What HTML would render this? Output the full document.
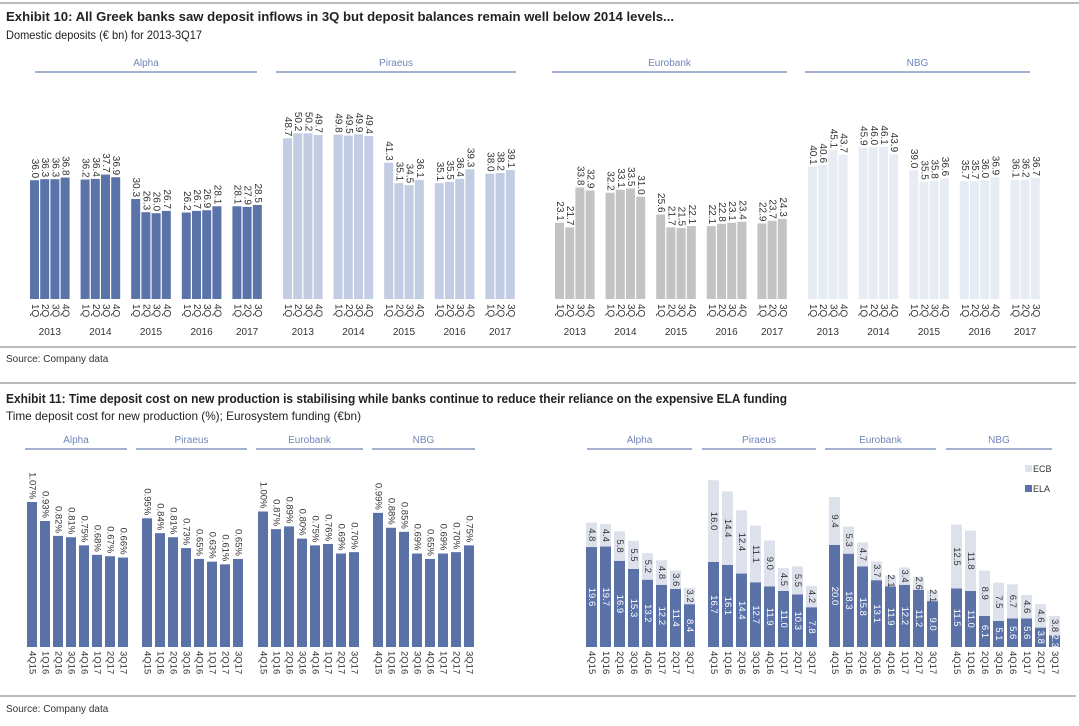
<!DOCTYPE html>
<html><head><meta charset="utf-8"><style>
body{margin:0;background:#fff;}
svg{display:block;font-family:"Liberation Sans",Arial,sans-serif;}
.t{font-family:"Liberation Sans Narrow","Liberation Sans",sans-serif;}
</style></head><body>
<svg id="c" width="1079" height="726" viewBox="0 0 1079 726">
<line x1="0" y1="3" x2="1079" y2="3" stroke="#777" stroke-width="1"/>
<text class="t" x="6" y="21" font-size="13" font-weight="bold" fill="#222" textLength="668" lengthAdjust="spacingAndGlyphs">Exhibit 10: All Greek banks saw deposit inflows in 3Q but deposit balances remain well below 2014 levels...</text>
<text class="t" x="6" y="39" font-size="12" fill="#222" textLength="196" lengthAdjust="spacingAndGlyphs">Domestic deposits (€ bn) for 2013-3Q17</text>
<line x1="0" y1="347" x2="1076" y2="347" stroke="#777"/>
<text class="t" x="6" y="362" font-size="10" fill="#333">Source: Company data</text>
<line x1="0" y1="383" x2="1076" y2="383" stroke="#777"/>
<text class="t" x="6" y="403" font-size="13" font-weight="bold" fill="#222" textLength="781" lengthAdjust="spacingAndGlyphs">Exhibit 11: Time deposit cost on new production is stabilising while banks continue to reduce their reliance on the expensive ELA funding</text>
<text class="t" x="6" y="420" font-size="12" fill="#222" textLength="355" lengthAdjust="spacingAndGlyphs">Time deposit cost for new production (%); Eurosystem funding (€bn)</text>
<line x1="0" y1="696" x2="1076" y2="696" stroke="#777"/>
<text class="t" x="6" y="712" font-size="10" fill="#333">Source: Company data</text>
<g id="legend">
<rect x="1025" y="465" width="7" height="7" fill="#dde1ec"/>
<text x="1033" y="472" font-size="9" fill="#333">ECB</text>
<rect x="1025" y="485" width="7" height="7" fill="#5b72a9"/>
<text x="1033" y="492" font-size="9" fill="#333">ELA</text>
</g>
</svg>
<script>
// Exhibit 10 data
const depBanks = ["Alpha","Piraeus","Eurobank","NBG"];
const depYears = ["2013","2014","2015","2016","2017"];
const depAlpha = [36.0,36.3,36.3,36.8, 36.2,36.4,37.7,36.9, 30.3,26.3,26.0,26.7, 26.2,26.7,26.9,28.1, 28.1,27.9,28.5];
const depPiraeus = [48.7,50.2,50.2,49.7, 49.8,49.5,49.9,49.4, 41.3,35.1,34.5,36.1, 35.1,35.5,36.4,39.3, 38.0,38.2,39.1];
const depEurobank = [23.1,21.7,33.8,32.9, 32.2,33.1,33.5,31.0, 25.6,21.7,21.5,22.1, 22.1,22.8,23.1,23.4, 22.9,23.7,24.3];
const depNBG = [40.1,40.6,45.1,43.7, 45.9,46.0,46.1,43.9, 39.0,35.5,35.8,36.6, 35.7,35.7,36.0,36.9, 36.1,36.2,36.7];
// Exhibit 11 data
const quarters = ["4Q15","1Q16","2Q16","3Q16","4Q16","1Q17","2Q17","3Q17"];
const costAlpha = [1.07,0.93,0.82,0.81,0.75,0.68,0.67,0.66];
const costPiraeus = [0.95,0.84,0.81,0.73,0.65,0.63,0.61,0.65];
const costEurobank = [1.00,0.87,0.89,0.80,0.75,0.76,0.69,0.70];
const costNBG = [0.99,0.88,0.85,0.69,0.65,0.69,0.70,0.75];
const elaAlpha = [19.6,19.7,16.9,15.3,13.2,12.2,11.4,8.4];
const ecbAlpha = [4.8,4.4,5.8,5.5,5.2,4.8,3.6,3.2];
const elaPiraeus = [16.7,16.1,14.4,12.7,11.9,11.0,10.3,7.8];
const ecbPiraeus = [16.0,14.4,12.4,11.1,9.0,4.5,5.5,4.2];
const elaEurobank = [20.0,18.3,15.8,13.1,11.9,12.2,11.2,9.0];
const ecbEurobank = [9.4,5.3,4.7,3.7,2.1,3.4,2.6,2.1];
const elaNBG = [11.5,11.0,6.1,5.1,5.6,5.6,3.8,2.3];
const ecbNBG = [12.5,11.8,8.9,7.5,6.7,4.6,4.6,3.8];

const svg = document.getElementById('c');
const NS = 'http://www.w3.org/2000/svg';
function mk(tag, attrs, txt){const e=document.createElementNS(NS,tag);for(const k in attrs)e.setAttribute(k,attrs[k]);if(txt!==undefined)e.textContent=txt;svg.appendChild(e);return e;}
function vtext(x,yTop,txt,size,fill,anchor){
  const e=mk('text',{x:0,y:0,'font-size':size,fill:fill,'text-anchor':anchor||'start','dominant-baseline':'central',transform:`translate(${x},${yTop}) rotate(90)`},txt);return e;}
function header(name,x1,x2,y){
  const t=mk('text',{x:(x1+x2)/2,y:y-6,'font-size':10,fill:'#6f86b8','text-anchor':'middle'},name);
  
  
  const l=mk('line',{x1:x1,x2:x2,y1:y,y2:y,stroke:'#8797c0','stroke-width':1.5});
  
  
}
// ---- Exhibit 10
const dBase=299, dScale=3.3;
const dY = v => dBase - v*dScale;
const depSeries=[depAlpha,depPiraeus,depEurobank,depNBG];
const depColors=['#5a73a8','#c2cce3','#c3c3c3','#e6ebf4'];
const depStart=[30,283,555,808];
const depHead=[[35,257],[276,516],[552,787],[805,1030]];
depBanks.forEach((b,bi)=>{
  header(b,depHead[bi][0],depHead[bi][1],72);
  const vals=depSeries[bi];
  vals.forEach((v,i)=>{
    const g=Math.floor(i/4), q=i%4;
    const x=depStart[bi]+g*50.6+q*10.2;
    const r=mk('rect',{x:x,y:dY(v),width:9,height:dBase-dY(v),fill:depColors[bi]});
    
    
    const lt=vtext(x+4.5,dY(v)-2,v.toFixed(1),10,'#333','end');
    
    
    const ql=vtext(x+4.5,304,(q+1)+'Q',10,'#333');
    
    
  });
  depYears.forEach((yr,g)=>{
    const n=g<4?4:3;
    const cx=depStart[bi]+g*50.6+((n-1)*10.2+9)/2;
    const yt=mk('text',{x:cx,y:335,'font-size':10,fill:'#333','text-anchor':'middle'},yr);
    
    
  });
});
// ---- Exhibit 11 left: cost
const cBase=647, cScale=135.5;
const cY=v=>cBase-v*cScale;
const costSeries=[costAlpha,costPiraeus,costEurobank,costNBG];
const costStart=[27,142,258,373];
const costHead=[[25,127],[136,247],[256,363],[372,475]];
depBanks.forEach((b,bi)=>{
  header(b,costHead[bi][0],costHead[bi][1],449);
  costSeries[bi].forEach((v,i)=>{
    const x=costStart[bi]+i*13;
    const r=mk('rect',{x:x,y:cY(v),width:10,height:cBase-cY(v),fill:'#5b72a9'});
    
    
    const lt=vtext(x+5,cY(v)-3,v.toFixed(2)+'%',9.5,'#333','end');
    
    
    const ql=vtext(x+5,651,quarters[i],9.5,'#333');
    
    
  });
});
// ---- Exhibit 11 right: funding stacked
const fBase=647, fScale=5.1;
const fH=v=>v*fScale;
const elaSeries=[elaAlpha,elaPiraeus,elaEurobank,elaNBG];
const ecbSeries=[ecbAlpha,ecbPiraeus,ecbEurobank,ecbNBG];
const fStart=[586,708,829,951];
const fHead=[[587,692],[702,816],[825,936],[946,1052]];
depBanks.forEach((b,bi)=>{
  header(b,fHead[bi][0],fHead[bi][1],449);
  elaSeries[bi].forEach((ela,i)=>{
    const ecb=ecbSeries[bi][i];
    const x=fStart[bi]+i*14;
    const yE=fBase-fH(ela), yT=yE-fH(ecb);
    const r1=mk('rect',{x:x,y:yE,width:11,height:fH(ela),fill:'#5b72a9'});
    
    
    const r2=mk('rect',{x:x,y:yT,width:11,height:fH(ecb),fill:'#dde1ec'});
    
    
    const l2=vtext(x+5.5,yT+fH(ecb)/2,ecb.toFixed(1),9.5,'#333','middle');
    
    
    const l1=vtext(x+5.5,yE+fH(ela)/2,ela.toFixed(1),9.5,'#fff','middle');
    
    
    const ql=vtext(x+5.5,651,quarters[i],9.5,'#333');
    
    
  });
});
</script>
</body></html>
